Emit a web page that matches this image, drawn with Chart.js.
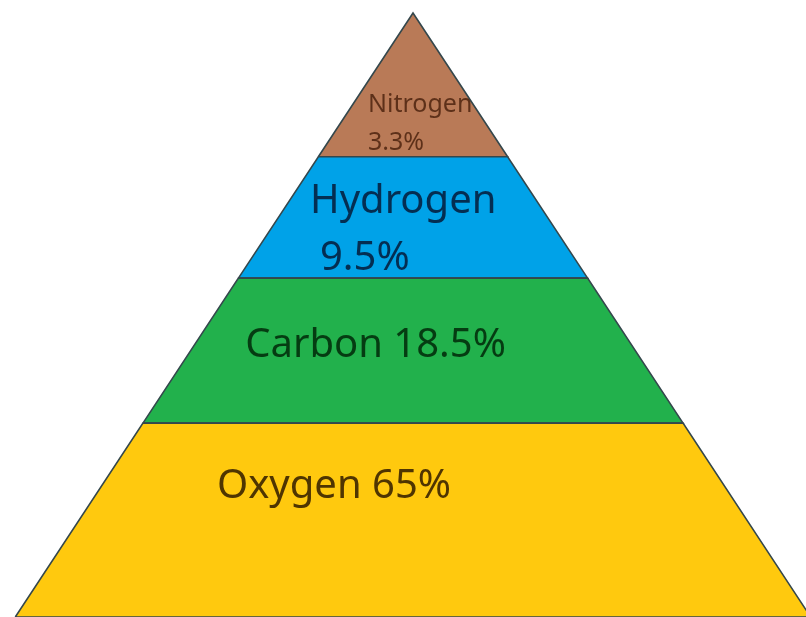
<!DOCTYPE html>
<html>
<head>
<meta charset="utf-8">
<script src="https://cdn.jsdelivr.net/npm/chart.js@4.4.1/dist/chart.umd.min.js"></script>
<style>
  html, body { margin: 0; padding: 0; background: #fff; }
  #wrap { width: 806px; height: 617px; position: relative; }
</style>
</head>
<body>
<div id="wrap"><canvas id="piramide"></canvas></div>
<script>
// Datos de la pirámide (de la base a la cima)
const elements = ['Oxygen', 'Carbon', 'Hydrogen', 'Nitrogen'];
const percents = [65, 18.5, 9.5, 3.3];
// Altura de los bordes de cada franja (0 = base, 100 = cima)
const bandLevels = [0, 32.1, 56.1, 76.2, 100];

// Estilo de cada franja
const bandColors = ['#FFC90E', '#22B14C', '#00A2E8', '#B97A57'];
const textColors = ['rgba(55,32,0,0.88)', 'rgba(0,40,8,0.85)', 'rgba(5,30,60,0.88)', 'rgba(70,30,10,0.8)'];
const fontSizes = [40, 40, 40, 25];
// Etiquetas: en dos líneas o en una, x de inicio y línea base (unidades de la gráfica)
const splitLabel = [false, false, true, true];
const labelX = [[-0.493], [-0.422], [-0.259, -0.234], [-0.113, -0.113]];
const labelY = [[19.7], [43.0], [66.9, 57.5], [83.6, 77.3]];

// Medio ancho de la pirámide a una altura dada
function halfWidth(h) {
    return 1 - h / 100;
}

// Polígono de cada franja
function bandPolygon(i) {
    const h0 = bandLevels[i];
    const h1 = bandLevels[i + 1];
    return [
        { x: -halfWidth(h0), y: h0 },
        { x: halfWidth(h0), y: h0 },
        { x: halfWidth(h1), y: h1 },
        { x: -halfWidth(h1), y: h1 },
        { x: -halfWidth(h0), y: h0 }
    ];
}

const datasets = elements.map((el, i) => ({
    label: el,
    data: bandPolygon(i),
    showLine: true,
    fill: 'shape',
    backgroundColor: bandColors[i],
    borderColor: '#34474c',
    borderWidth: 1.6,
    pointRadius: 0,
    tension: 0
}));

// Plugin para escribir los textos
const etiquetas = {
    id: 'etiquetas',
    afterDatasetsDraw(chart) {
        const { ctx, scales: { x, y } } = chart;
        ctx.save();
        ctx.textAlign = 'left';
        ctx.textBaseline = 'alphabetic';
        elements.forEach((el, i) => {
            const lines = splitLabel[i] ? [el, percents[i] + '%'] : [el + ' ' + percents[i] + '%'];
            ctx.font = fontSizes[i] + 'px "Noto Sans", sans-serif';
            ctx.fillStyle = textColors[i];
            lines.forEach((txt, j) => {
                ctx.fillText(txt, x.getPixelForValue(labelX[i][j]), y.getPixelForValue(labelY[i][j]));
            });
        });
        ctx.restore();
    }
};

const ctx = document.getElementById('piramide').getContext('2d');
const grafica = new Chart(ctx, {
    type: 'scatter',
    data: { datasets: datasets },
    options: {
        responsive: true,
        maintainAspectRatio: false,
        animation: false,
        layout: { padding: 0 },
        plugins: {
            legend: { display: false },
            tooltip: { enabled: false }
        },
        scales: {
            x: { display: false, min: -1.0385, max: 0.9882 },
            y: { display: false, min: 0, max: 102.15 }
        }
    },
    plugins: [etiquetas]
});
</script>
</body>
</html>
